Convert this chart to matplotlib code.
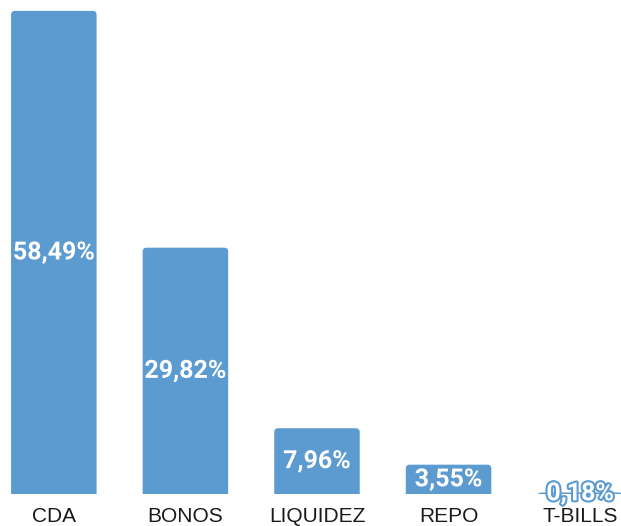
import matplotlib.pyplot as plt
import matplotlib.patheffects as pe
from matplotlib.patches import FancyBboxPatch

categories = ['CDA', 'BONOS', 'LIQUIDEZ', 'REPO', 'T-BILLS']
values = [58.49, 29.82, 7.96, 3.55, 0.18]
labels = ['58,49%', '29,82%', '7,96%', '3,55%', '0,18%']

bar_color = '#5b9bd0'
bar_width = 0.65

fig = plt.figure(figsize=(6.21, 5.26), dpi=100)
ax = fig.add_axes([0, 32 / 526, 1, 494 / 526])

# x: 132 px per category, first centre at 54 px
ax.set_xlim(-54 / 132, 4 + 41 / 132)
ax.set_ylim(0, 494 / 8.26)

# rounded top corners (bottom is pushed below the axis and clipped)
x_per_px = 1 / 132
y_per_px = 1 / 8.26
r = 4 * x_per_px
aspect = y_per_px / x_per_px
for i, v in enumerate(values):
    box = FancyBboxPatch((i - bar_width / 2, -1), bar_width, v + 1,
                         boxstyle=f'round,pad=0,rounding_size={r}',
                         mutation_aspect=aspect,
                         facecolor=bar_color, edgecolor='none')
    ax.add_patch(box)
    ax.text(i, v / 2, labels[i], ha='center', va='center', color='white',
            fontsize=18, fontweight='bold', family='Roboto',
            path_effects=[pe.withStroke(linewidth=3, foreground=bar_color)])

ax.set_xticks(range(len(categories)))
ax.set_xticklabels(categories, fontsize=15, family='Liberation Sans', color='#1a1a1a')
ax.tick_params(axis='x', length=0, pad=9)
ax.set_yticks([])
for s in ax.spines.values():
    s.set_visible(False)

fig.savefig('out.png', dpi=100)
